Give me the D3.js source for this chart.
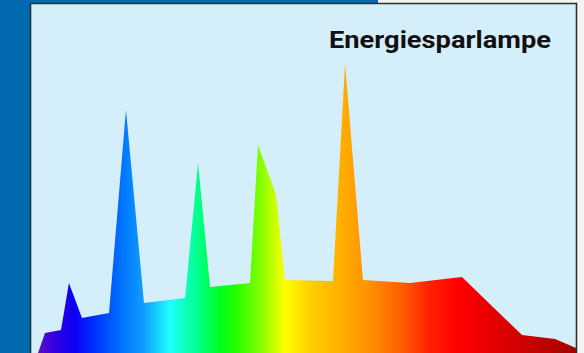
<!DOCTYPE html>
<html>
<head>
<meta charset="utf-8">
<script src="https://cdn.jsdelivr.net/npm/d3@7/dist/d3.min.js"></script>
<style>
  html, body { margin: 0; padding: 0; background: #f4f4f4; }
  svg { display: block; }
</style>
</head>
<body>
<svg id="chart" width="584" height="353"></svg>
<script>
// ---- data ----
const title = "Energiesparlampe";
// wavelength in nm
const wavelengths = [380, 385.2, 397.1, 403.0, 412.7, 432.8, 445.4, 458.8, 489.3, 499.0, 507.9, 537.6, 543.6, 552.5, 557.0, 563.6, 599.3, 608.3, 621.6, 656.6, 695.2, 739.9, 764.4, 780];
// relative intensity (0-100)
const intensities = [0, 6.7, 7.7, 23.3, 11.7, 13.3, 81, 16.7, 18.3, 63.3, 22, 23.3, 69.3, 58.3, 52.7, 24.3, 24, 96.3, 24.3, 23.3, 25.3, 6, 4.7, 1.7];
// spectrum colours along the wavelength axis
const colorWavelengths = [380.7, 392.6, 407.4, 422.3, 440.9, 459.5, 478.1, 500.4, 515.3, 526.4, 545.0, 563.6, 582.2, 604.5, 626.8, 649.1, 671.4, 693.7, 723.5, 753.2, 780];
const colorValues = ["#5a10c8", "#3000e0", "#0a00f5", "#0030ff", "#0070ff", "#10a0ff", "#20ffff", "#00ff80", "#00ff20", "#20ff00", "#80ff00", "#ffff00", "#ffd000", "#ffb000", "#ff9000", "#ff6000", "#ff2000", "#ff0000", "#e00000", "#c00000", "#a00000"];

const svg = d3.select("#chart");
const W = 584, H = 353;

// background frame
svg.append("rect").attr("x", 0).attr("y", 0).attr("width", W).attr("height", H).attr("fill", "#f4f4f4");
svg.append("rect").attr("x", 0).attr("y", 0).attr("width", 30).attr("height", H).attr("fill", "#0069b0");
svg.append("rect").attr("x", 0).attr("y", 0).attr("width", 378).attr("height", 4).attr("fill", "#0069b0");

// panel
const panel = {x: 31, y: 4, w: 545, h: 352};
svg.append("rect")
  .attr("x", panel.x).attr("y", panel.y).attr("width", panel.w).attr("height", panel.h)
  .attr("fill", "#d4eefa");

// scales
const x = d3.scaleLinear().domain([380, 780]).range([38, 576]);
const y = d3.scaleLinear().domain([0, 100]).range([353, 53]);

// gradient
const defs = svg.append("defs");
const grad = defs.append("linearGradient")
  .attr("id", "spec").attr("gradientUnits", "userSpaceOnUse")
  .attr("x1", x(380)).attr("x2", x(780)).attr("y1", 0).attr("y2", 0);
colorWavelengths.forEach((w, i) => {
  grad.append("stop")
    .attr("offset", (x(w) - x(380)) / (x(780) - x(380)))
    .attr("stop-color", colorValues[i]);
});

const clip = defs.append("clipPath").attr("id", "pclip");
clip.append("rect").attr("x", panel.x).attr("y", panel.y).attr("width", panel.w).attr("height", panel.h);

const data = wavelengths.map((w, i) => ({w, v: intensities[i]}));
const area = d3.area()
  .x(d => x(d.w))
  .y0(y(0) + 2)
  .y1(d => y(d.v))
  .curve(d3.curveLinear);

svg.append("path")
  .datum(data)
  .attr("d", area)
  .attr("fill", "url(#spec)")
  .attr("clip-path", "url(#pclip)");

// panel border
svg.append("path")
  .attr("d", `M${panel.x - 0.5},${H + 2} V${panel.y - 0.5} H${panel.x + panel.w + 0.5} V${H + 2}`)
  .attr("fill", "none")
  .attr("stroke", "#2b2f33")
  .attr("stroke-width", 1.6);

// title
svg.append("text")
  .attr("x", 551).attr("y", 48)
  .attr("text-anchor", "end")
  .attr("font-family", "Roboto, 'DejaVu Sans', sans-serif")
  .attr("font-weight", 700)
  .attr("font-size", 23)
  .attr("fill", "#111")
  .attr("textLength", 222)
  .attr("lengthAdjust", "spacingAndGlyphs")
  .text(title);
</script>
</body>
</html>
